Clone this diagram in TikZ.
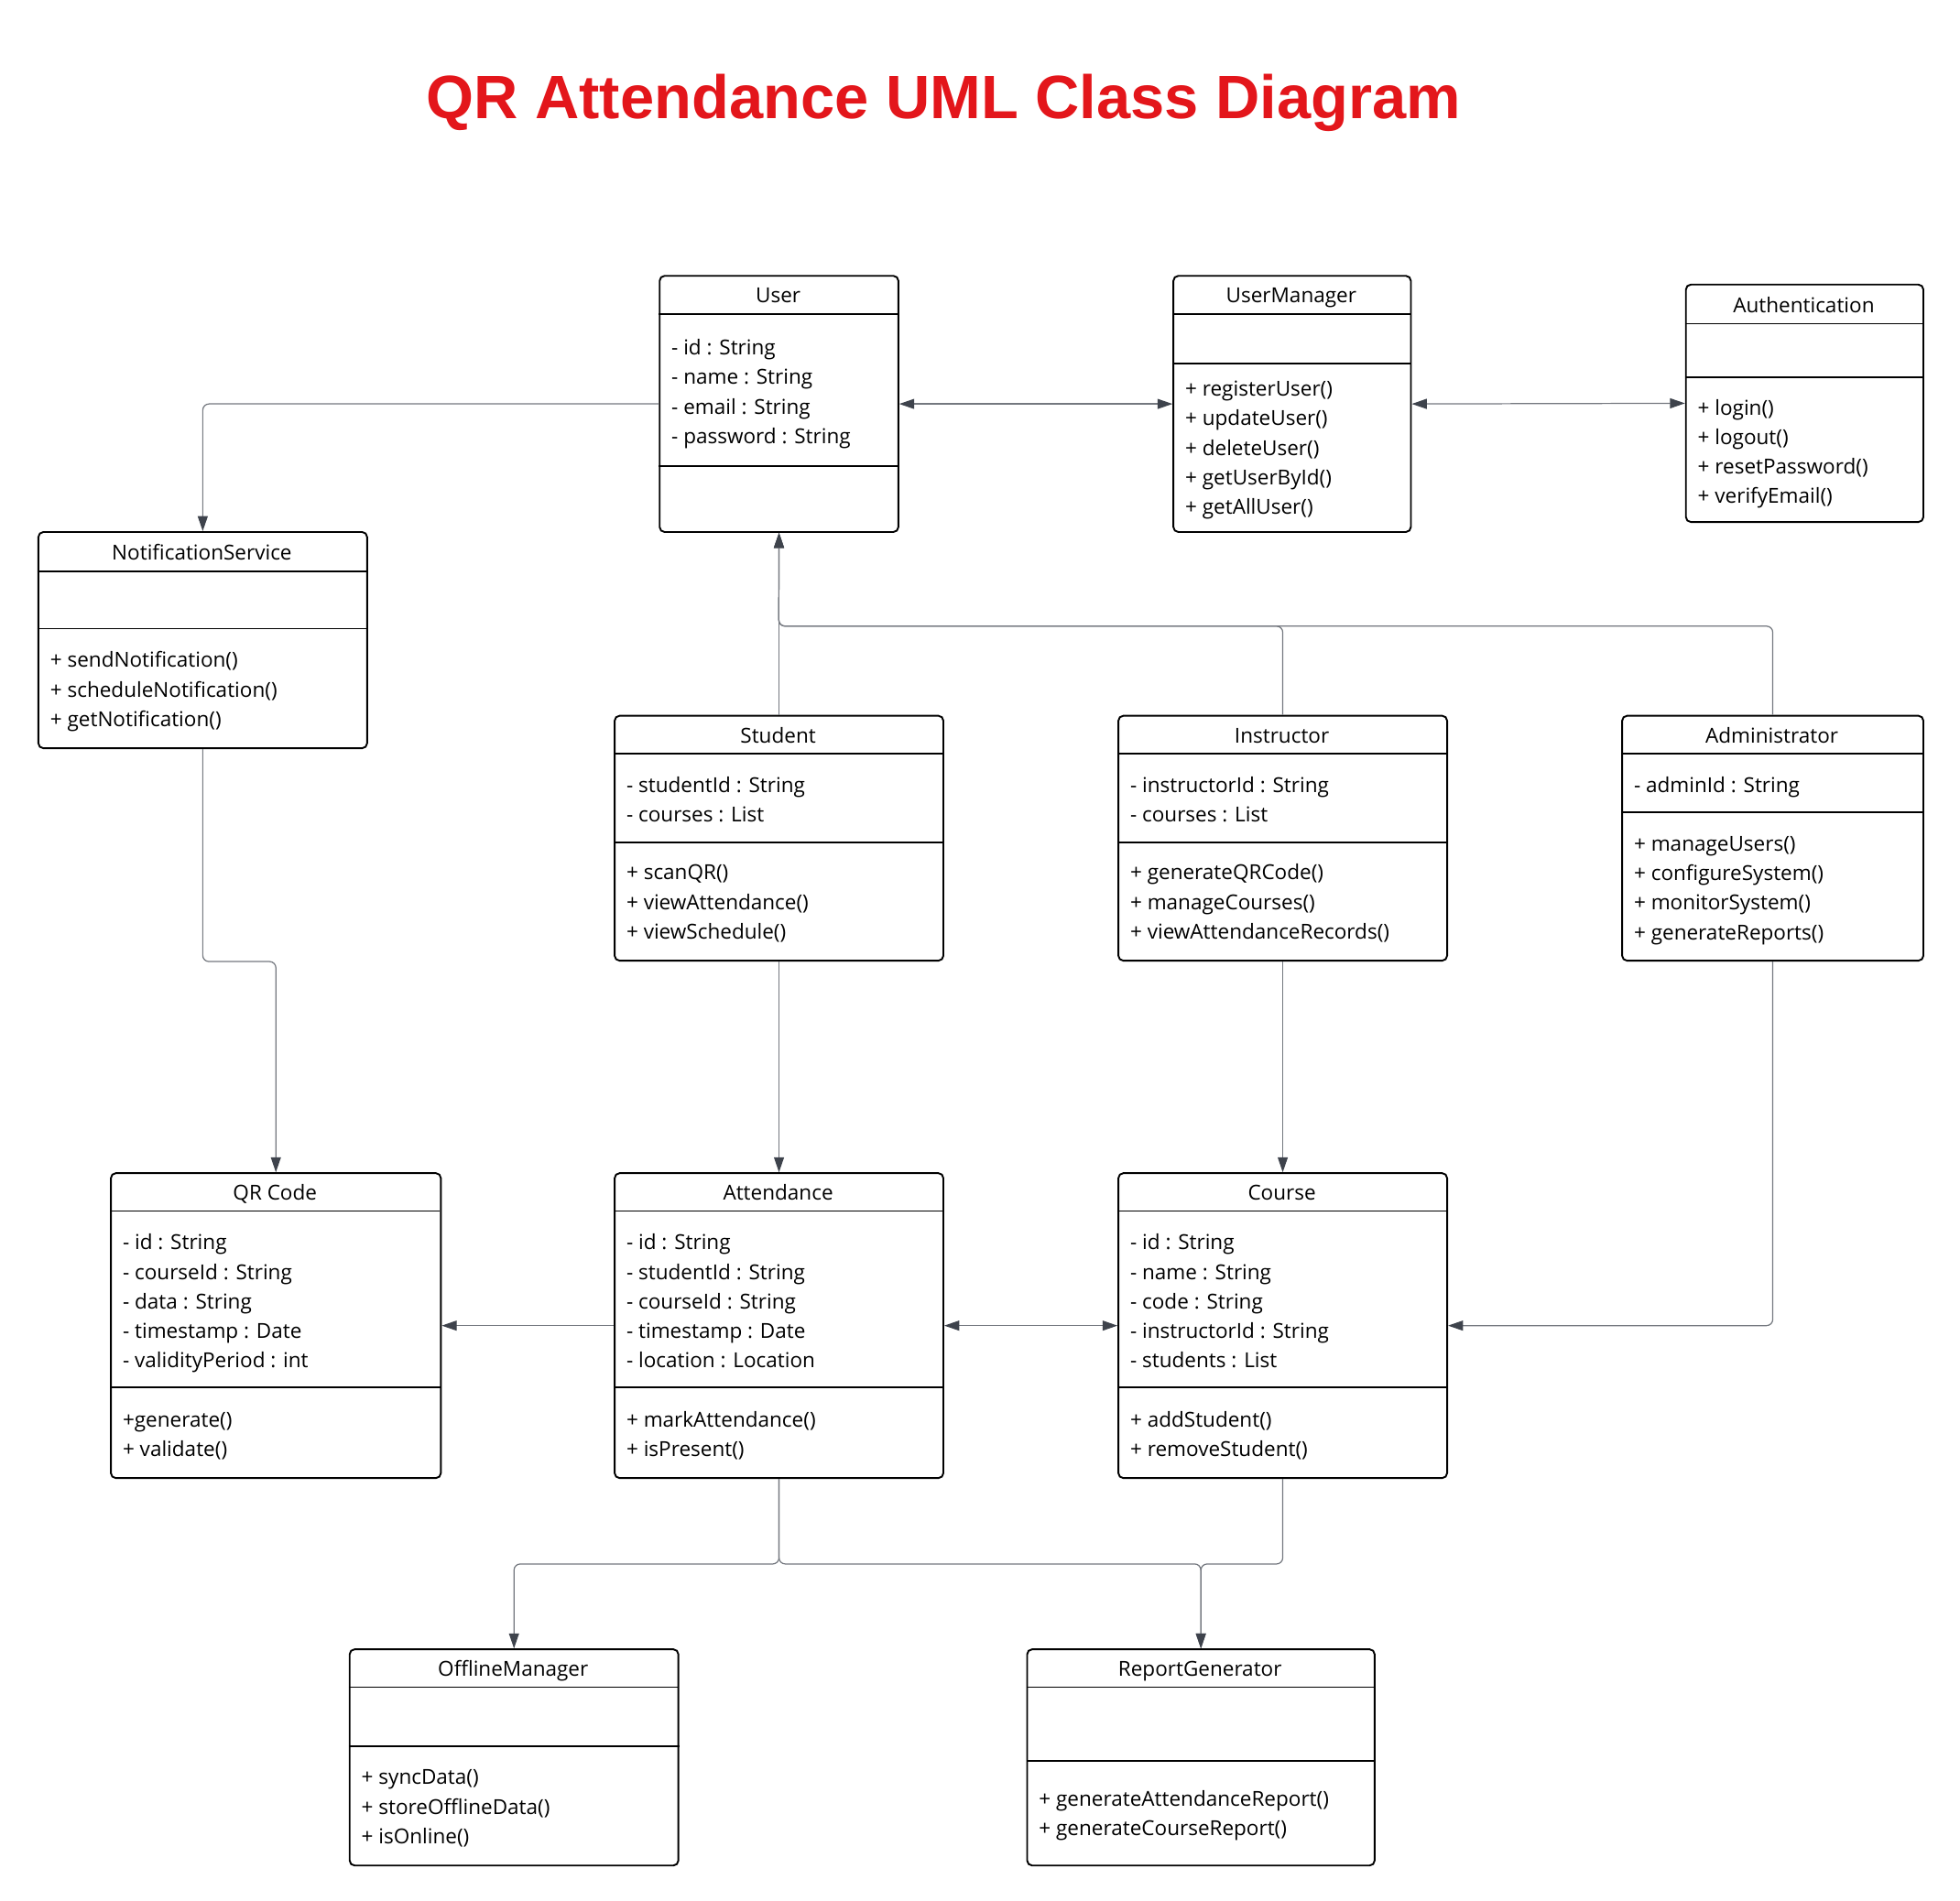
\documentclass[tikz,border=0pt]{standalone}
\usepackage{fontspec}
\setmainfont{Open Sans}
\newfontfamily\headfont{Liberation Sans}
\usepackage{xcolor}
\usepackage{tikz}
\usetikzlibrary{arrows.meta}
\usetikzlibrary{positioning}

\definecolor{titlered}{HTML}{E3161B}
\definecolor{linegray}{HTML}{74787F}
\definecolor{tipgray}{HTML}{3E434C}

\tikzstyle{classbox} = [draw, line width=1.4pt, rounded corners=4pt,
    anchor=north west, inner sep=0pt]
\tikzstyle{classname} = [inner sep=0pt, text height=15pt, text depth=1pt,
    font=\fontsize{16.5}{20}\selectfont]
\tikzstyle{member} = [anchor=west, inner sep=0pt, text height=15pt,
    text depth=1pt, font=\fontsize{16.5}{20}\selectfont]
\tikzstyle{divider} = [draw, line width=1.4pt]
\tikzstyle{title} = [text=titlered, font=\headfont\fontsize{49}{56}\selectfont\bfseries]
\tikzstyle{line} = [draw, linegray, line width=0.9pt, rounded corners=5pt,
    -{Triangle[length=12pt, width=8pt, color=tipgray]}]
\tikzstyle{biline} = [draw, linegray, line width=0.9pt,
    {Triangle[length=12pt, width=8pt, color=tipgray]}-{Triangle[length=12pt, width=8pt, color=tipgray]}]

% class box: name, left, top, right, bottom, title, header line
\newcommand{\umlclass}[7]{%
  \node[classbox, minimum width={(#4-#2)*1pt}, minimum height={(#5-#3)*1pt}] (#1) at (#2,#3) {};
  \node[classname] (#1-name) at ({(#2+#4)/2},{(#3+#7)/2}) {#6};
  \draw[divider] (#2,#7) -- (#4,#7);
}
% list of members: prefix, left, first line, entries
\newcommand{\members}[4]{%
  \foreach \m [count=\i] in {#4}
    \node[member] (#1\i) at (#2,{#3+23.6*(\i-1)}) {\m};
}

\begin{document}
\begin{tikzpicture}[x=1pt, y=-1pt]
  \useasboundingbox (0,0) rectangle (1568,1521);
  \node[title] (title) at (755,82) {QR Attendance UML Class Diagram};

  % Place nodes
  \umlclass{user}{527}{220}{718}{425}{User}{251}
  \draw[divider] (user.west |- 0,373) -- (user.east |- 0,373);
  \members{user-a}{537}{277}{- id : String, - name : String, - email : String, - password : String}

  \umlclass{umgr}{938}{220}{1128}{425}{UserManager}{251}
  \draw[divider] (umgr.west |- 0,291) -- (umgr.east |- 0,291);
  \members{umgr-m}{948}{310}{+ registerUser(), + updateUser(), + deleteUser(), + getUserById(), + getAllUser()}

  \umlclass{auth}{1348}{227}{1538}{417}{Authentication}{259}
  \draw[divider] (auth.west |- 0,302) -- (auth.east |- 0,302);
  \members{auth-m}{1358}{325}{+ login(), + logout(), + resetPassword(), + verifyEmail()}

  \umlclass{notif}{30}{425}{293}{598}{NotificationService}{457}
  \draw[divider] (notif.west |- 0,503) -- (notif.east |- 0,503);
  \members{notif-m}{40}{527}{+ sendNotification(), + scheduleNotification(), + getNotification()}

  \umlclass{student}{491}{572}{754}{768}{Student}{603}
  \draw[divider] (student.west |- 0,674) -- (student.east |- 0,674);
  \members{student-a}{501}{627}{- studentId : String, - courses : List}
  \members{student-m}{501}{697}{+ scanQR(), + viewAttendance(), + viewSchedule()}

  \umlclass{instr}{894}{572}{1157}{768}{Instructor}{603}
  \draw[divider] (instr.west |- 0,674) -- (instr.east |- 0,674);
  \members{instr-a}{904}{627}{- instructorId : String, - courses : List}
  \members{instr-m}{904}{697}{+ generateQRCode(), + manageCourses(), + viewAttendanceRecords()}

  \umlclass{admin}{1297}{572}{1538}{768}{Administrator}{603}
  \draw[divider] (admin.west |- 0,650) -- (admin.east |- 0,650);
  \members{admin-a}{1307}{627}{- adminId : String}
  \members{admin-m}{1307}{674}{+ manageUsers(), + configureSystem(), + monitorSystem(), + generateReports()}

  \umlclass{qr}{88}{938}{352}{1182}{QR Code}{969}
  \draw[divider] (qr.west |- 0,1110) -- (qr.east |- 0,1110);
  \members{qr-a}{98}{993}{- id : String, - courseId : String, - data : String, - timestamp : Date, - validityPeriod : int}
  \members{qr-m}{98}{1135}{+generate(), + validate()}

  \umlclass{att}{491}{938}{754}{1182}{Attendance}{969}
  \draw[divider] (att.west |- 0,1110) -- (att.east |- 0,1110);
  \members{att-a}{501}{993}{- id : String, - studentId : String, - courseId : String, - timestamp : Date, - location : Location}
  \members{att-m}{501}{1135}{+ markAttendance(), + isPresent()}

  \umlclass{course}{894}{938}{1157}{1182}{Course}{969}
  \draw[divider] (course.west |- 0,1110) -- (course.east |- 0,1110);
  \members{course-a}{904}{993}{- id : String, - name : String, - code : String, - instructorId : String, - students : List}
  \members{course-m}{904}{1135}{+ addStudent(), + removeStudent()}

  \umlclass{offline}{279}{1319}{542}{1492}{OfflineManager}{1350}
  \draw[divider] (offline.west |- 0,1397) -- (offline.east |- 0,1397);
  \members{offline-m}{289}{1421}{+ syncData(), + storeOfflineData(), + isOnline()}

  \umlclass{report}{821}{1319}{1099}{1492}{ReportGenerator}{1350}
  \draw[divider] (report.west |- 0,1409) -- (report.east |- 0,1409);
  \members{report-m}{831}{1438}{+ generateAttendanceReport(), + generateCourseReport()}

  \coordinate (split) at (623,501);

  % Draw edges
  \path [line] (user.west) -| (notif.north);
  \path [biline] (user.east) -- (umgr.west);
  \path [biline] (umgr.east) -- (auth.west);
  \path [line] (student.north) -- (user.south);
  \path [line] (instr.north) |- (split) -- (user.south);
  \path [line] (admin.north) |- (split) -- (user.south);
  \path [line] (notif.south) -- ++(0,170) -| (qr.north);
  \path [line] (student.south) -- (att.north);
  \path [line] (instr.south) -- (course.north);
  \path [line] (admin.south) |- (course.east);
  \path [line] (att.west) -- (qr.east);
  \path [biline] (att.east) -- (course.west);
  \path [line] (att.south) -- ++(0,68) -| (offline.north);
  \path [line] (att.south) -- ++(0,68) -| (report.north);
  \path [line] (course.south) -- ++(0,68) -| (report.north);
\end{tikzpicture}
\end{document}
